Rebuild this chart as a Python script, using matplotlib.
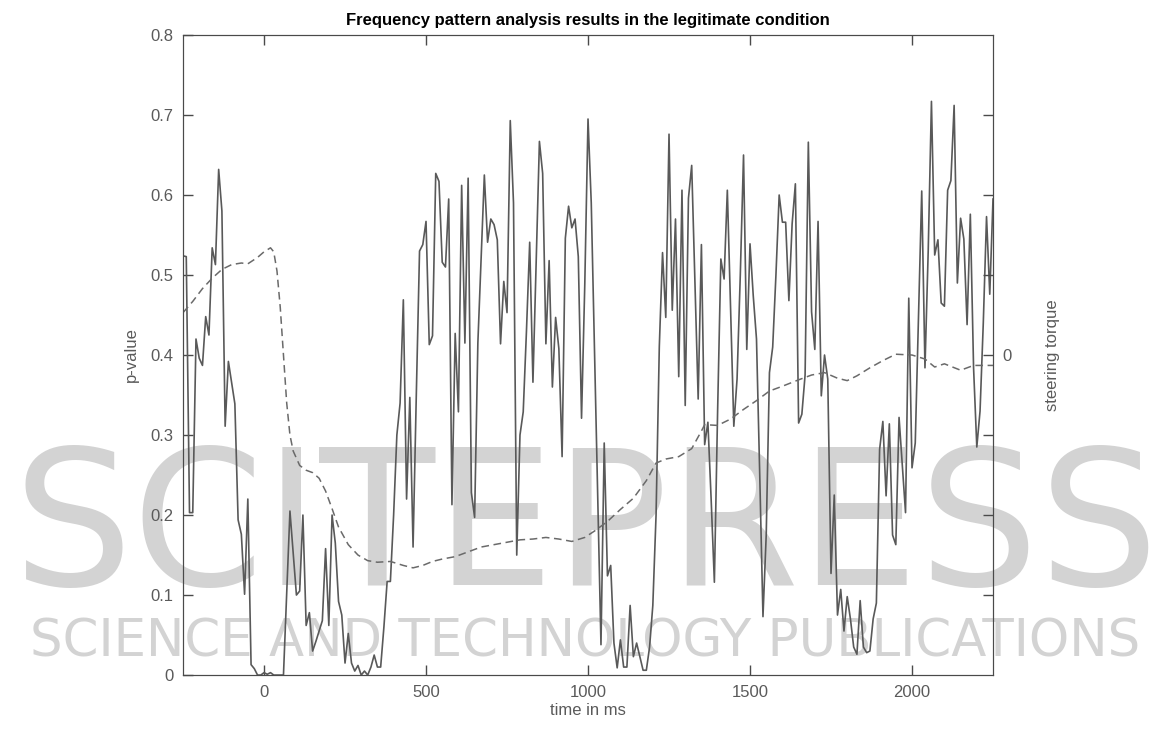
import matplotlib
matplotlib.use("Agg")
import matplotlib.pyplot as plt
import numpy as np

plt.rcParams['font.family'] = ['Liberation Sans', 'DejaVu Sans']

# p-value of the frequency pattern test (left axis)
time_ms = [
    -250, -240, -230, -220, -210, -200, -190, -180, -170, -160,
    -150, -140, -130, -120, -110, -90, -80, -70, -60, -50,
    -40, -30, -20, -10, 0, 10, 20, 30, 40, 50,
    60, 80, 100, 110, 120, 130, 140, 150, 160, 170,
    180, 190, 200, 210, 220, 230, 240, 250, 260, 270,
    280, 290, 300, 310, 320, 330, 340, 350, 360, 370,
    380, 390, 400, 410, 420, 430, 440, 450, 460, 470,
    480, 490, 500, 510, 520, 530, 540, 550, 560, 570,
    580, 590, 600, 610, 620, 630, 640, 650, 660, 670,
    680, 690, 700, 710, 720, 730, 740, 750, 760, 770,
    780, 790, 800, 810, 820, 830, 840, 850, 860, 870,
    880, 890, 900, 910, 920, 930, 940, 950, 960, 970,
    980, 990, 1000, 1010, 1040, 1050, 1060, 1070, 1080, 1090,
    1100, 1110, 1120, 1130, 1140, 1150, 1160, 1170, 1180, 1190,
    1200, 1210, 1220, 1230, 1240, 1250, 1260, 1270, 1280, 1290,
    1300, 1310, 1320, 1330, 1340, 1350, 1360, 1370, 1380, 1390,
    1400, 1410, 1420, 1430, 1440, 1450, 1460, 1470, 1480, 1490,
    1500, 1510, 1520, 1530, 1540, 1550, 1560, 1570, 1580, 1590,
    1600, 1610, 1620, 1630, 1640, 1650, 1660, 1670, 1680, 1690,
    1700, 1710, 1720, 1730, 1740, 1750, 1760, 1770, 1780, 1790,
    1800, 1810, 1820, 1830, 1840, 1850, 1860, 1870, 1880, 1890,
    1900, 1910, 1920, 1930, 1940, 1950, 1960, 1970, 1980, 1990,
    2000, 2010, 2020, 2030, 2040, 2050, 2060, 2070, 2080, 2090,
    2100, 2110, 2120, 2130, 2140, 2150, 2160, 2170, 2180, 2190,
    2200, 2210, 2220, 2230, 2240, 2250,
]
p_value = [
    0.524, 0.523, 0.203, 0.203, 0.420, 0.396, 0.387, 0.448, 0.425, 0.534,
    0.513, 0.632, 0.580, 0.311, 0.392, 0.339, 0.194, 0.176, 0.101, 0.220,
    0.013, 0.008, 0.000, 0.000, 0.003, 0.001, 0.003, 0.000, 0.000, 0.000,
    0.000, 0.205, 0.100, 0.105, 0.200, 0.062, 0.078, 0.030, 0.042, 0.055,
    0.068, 0.158, 0.062, 0.200, 0.165, 0.092, 0.075, 0.015, 0.052, 0.015,
    0.005, 0.012, 0.000, 0.005, 0.000, 0.010, 0.025, 0.010, 0.010, 0.060,
    0.117, 0.117, 0.200, 0.300, 0.340, 0.469, 0.220, 0.347, 0.160, 0.350,
    0.530, 0.538, 0.567, 0.413, 0.424, 0.627, 0.617, 0.516, 0.510, 0.595,
    0.213, 0.427, 0.329, 0.612, 0.415, 0.621, 0.228, 0.197, 0.415, 0.520,
    0.625, 0.541, 0.570, 0.563, 0.544, 0.414, 0.492, 0.453, 0.693, 0.590,
    0.150, 0.300, 0.329, 0.430, 0.541, 0.366, 0.516, 0.667, 0.627, 0.414,
    0.518, 0.360, 0.447, 0.408, 0.273, 0.546, 0.586, 0.559, 0.570, 0.523,
    0.321, 0.488, 0.695, 0.590, 0.038, 0.290, 0.124, 0.137, 0.040, 0.009,
    0.044, 0.010, 0.010, 0.087, 0.023, 0.040, 0.023, 0.006, 0.006, 0.035,
    0.087, 0.200, 0.410, 0.528, 0.447, 0.676, 0.456, 0.570, 0.373, 0.606,
    0.337, 0.596, 0.637, 0.490, 0.345, 0.538, 0.288, 0.316, 0.220, 0.116,
    0.330, 0.520, 0.495, 0.606, 0.460, 0.311, 0.370, 0.500, 0.650, 0.407,
    0.539, 0.474, 0.420, 0.250, 0.073, 0.175, 0.378, 0.410, 0.500, 0.600,
    0.566, 0.566, 0.468, 0.564, 0.614, 0.315, 0.326, 0.375, 0.666, 0.454,
    0.407, 0.567, 0.349, 0.400, 0.370, 0.127, 0.225, 0.075, 0.107, 0.055,
    0.098, 0.070, 0.035, 0.026, 0.093, 0.035, 0.028, 0.030, 0.070, 0.090,
    0.282, 0.317, 0.224, 0.314, 0.175, 0.163, 0.322, 0.262, 0.203, 0.471,
    0.259, 0.290, 0.450, 0.605, 0.384, 0.530, 0.717, 0.525, 0.544, 0.465,
    0.461, 0.606, 0.618, 0.712, 0.490, 0.571, 0.545, 0.438, 0.576, 0.384,
    0.285, 0.330, 0.440, 0.573, 0.476, 0.595,
]

# steering torque (right axis, only the zero level is labelled)
torque_time_ms = [
    -250, -220, -190, -160, -130, -100, -70, -50, -20, 0,
    20, 30, 40, 50, 60, 70, 80, 90, 110, 130,
    150, 170, 190, 210, 230, 260, 290, 320, 350, 390,
    430, 460, 490, 520, 550, 590, 630, 670, 710, 750,
    790, 830, 870, 910, 950, 990, 1020, 1060, 1100, 1140,
    1180, 1210, 1240, 1280, 1320, 1350, 1360, 1400, 1440, 1480,
    1520, 1560, 1600, 1650, 1690, 1730, 1770, 1800, 1830, 1870,
    1910, 1950, 2000, 2040, 2070, 2100, 2150, 2190, 2250,
]
steering_torque = [
    0.053, 0.067, 0.083, 0.096, 0.107, 0.113, 0.115, 0.114, 0.122, 0.129,
    0.134, 0.129, 0.105, 0.060, 0.000, -0.060, -0.100, -0.120, -0.138, -0.144,
    -0.147, -0.154, -0.170, -0.192, -0.215, -0.237, -0.250, -0.257, -0.259, -0.258,
    -0.263, -0.266, -0.263, -0.258, -0.255, -0.252, -0.246, -0.240, -0.237, -0.234,
    -0.231, -0.230, -0.228, -0.230, -0.233, -0.228, -0.220, -0.208, -0.193, -0.179,
    -0.157, -0.135, -0.130, -0.127, -0.117, -0.095, -0.087, -0.088, -0.080, -0.068,
    -0.057, -0.045, -0.039, -0.031, -0.025, -0.022, -0.029, -0.032, -0.026, -0.016,
    -0.007, 0.001, 0.000, -0.005, -0.015, -0.011, -0.019, -0.013, -0.013,
]

x_ticks = [0, 500, 1000, 1500, 2000]
p_ticks = [0, 0.1, 0.2, 0.3, 0.4, 0.5, 0.6, 0.7, 0.8]
p_labels = ['0', '0.1', '0.2', '0.3', '0.4', '0.5', '0.6', '0.7', '0.8']
torque_ticks = [-0.3, -0.2, -0.1, 0.0, 0.1, 0.2, 0.3]
torque_labels = ['', '', '', '0', '', '', '']

frame = '#4a4a4a'
text_grey = '#5a5a5a'
mark_grey = '#d3d3d3'

fig = plt.figure(figsize=(11.71, 7.29), dpi=100)

# publisher watermark, drawn first so the chart sits on top of it
fig.text(0.5, 0.1975, 'SCITEPRESS', ha='center', va='baseline', fontsize=136,
         family='DejaVu Sans', color=mark_grey, zorder=-1)
fig.text(0.5, 0.1, 'SCIENCE AND TECHNOLOGY PUBLICATIONS', ha='center', va='baseline',
         fontsize=37, family='DejaVu Sans', color=mark_grey, zorder=-1)

ax = fig.add_axes([0.1563, 0.074, 0.6917, 0.878])
ax.patch.set_visible(False)
ax.plot(time_ms, p_value, color='#595959', linewidth=1.2, zorder=3)

ax.set_xlim(-250, 2250)
ax.set_ylim(0, 0.8)
ax.set_xticks(x_ticks)
ax.set_yticks(p_ticks)
ax.set_yticklabels(p_labels)
ax.tick_params(direction='in', length=7, width=1, color=frame, labelcolor=text_grey,
               labelsize=12, top=True, pad=7)
for s in ax.spines.values():
    s.set_color(frame)
ax.set_xlabel('time in ms', fontsize=12, color=text_grey, labelpad=2)
ax.set_ylabel('p-value', fontsize=12, color=text_grey, labelpad=8)
ax.set_title('Frequency pattern analysis results in the legitimate condition',
             fontsize=12, fontweight='bold', pad=7)

ax2 = ax.twinx()
ax2.patch.set_visible(False)
ax2.plot(torque_time_ms, steering_torque, color='#6a6a6a', linewidth=1.1,
         linestyle=(0, (5, 3)), zorder=2)
ax2.set_ylim(-0.4, 0.4)
ax2.set_yticks(torque_ticks)
ax2.set_yticklabels(torque_labels)
ax2.tick_params(direction='in', length=7, width=1, color=frame, labelcolor=text_grey,
                labelsize=12, pad=7)
for s in ax2.spines.values():
    s.set_color(frame)
ax2.set_ylabel('steering torque', fontsize=12, color=text_grey, labelpad=24)

fig.savefig('out.png', dpi=100)
